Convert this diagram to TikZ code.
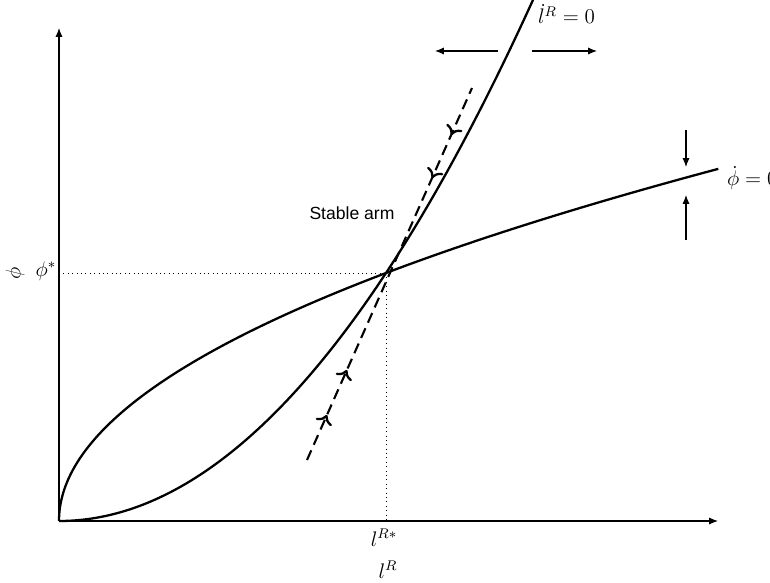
\documentclass[tikz,border=0pt]{standalone}
\usepackage{fontspec}
\setsansfont{Liberation Sans}
\usetikzlibrary{arrows.meta,decorations.markings}

\begin{document}
\begin{tikzpicture}[x=0.02cm,y=0.02cm,
	axisline/.style={line width=0.6pt,-{Latex[length=5pt,width=4pt]}},
	locus/.style={line width=1.3pt,smooth,samples=120},
	push/.style={line width=0.6pt,-{Latex[length=5pt,width=4pt]}},
	lab/.style={font=\fontsize{12}{14}\selectfont}]
		\useasboundingbox (0,0) rectangle (770,582);
		\clip (0,0) rectangle (770,582);
		
		% Points
		\coordinate (O) at (59,61);
		\coordinate (E) at (386,309);
		\coordinate (X) at (718,61);
		\coordinate (Y) at (59,554);
		
		% Axes
		\draw[axisline] (O) -- (X);
		\draw[axisline] (O) -- (Y);
		
		% Steady state
		\draw[dotted,line width=0.5pt] (O |- E) -- (E);
		\draw[dotted,line width=0.5pt] (E) -- (E |- O);
		\node[lab] (phistar) at (46,311) {$\phi^{*}$};
		\node[lab,rotate=90] (phi) at (15,309) {$\phi$};
		\node[lab] (lstar) at (384,44) {$l^{R*}$};
		\node[lab] (lR) at (388,12) {$l^{R}$};
		
		% Loci
		\draw[locus,domain=0:1.46] plot({59+327*\x},{61+248*\x*\x});
		\draw[locus,domain=0:1.42] plot({59+327*\x*\x},{61+248*\x});
		\node[lab,anchor=west,inner sep=1pt] (ldot) at (536,568) {$\dot{l}^{R}=0$};
		\node[lab,anchor=west,inner sep=1pt] (phidot) at (725,404) {$\dot{\phi}=0$};
		
		% Stable arm
		\draw[line width=1.2pt,dash pattern=on 6pt off 3.5pt,
			postaction={decorate},decoration={markings,
			mark=at position 0.121 with {\arrow{To[length=5pt,width=10pt,line width=1.3pt]}},
			mark=at position 0.242 with {\arrow{To[length=5pt,width=10pt,line width=1.3pt]}},
			mark=at position 0.758 with {\arrowreversed{To[length=5pt,width=10pt,line width=1.3pt]}},
			mark=at position 0.874 with {\arrowreversed{To[length=5pt,width=10pt,line width=1.3pt]}}}]
			(307,122) -- (472,494);
		\node[font=\sffamily\fontsize{10}{12}\selectfont] (arm) at (352,369) {Stable arm};
		
		% Motion
		\draw[push] (498,531) -- (435,531);
		\draw[push] (532,531) -- (597,531);
		\draw[push] (686,452) -- (686,415);
		\draw[push] (686,342) -- (686,387);

	\end{tikzpicture}
\end{document}
